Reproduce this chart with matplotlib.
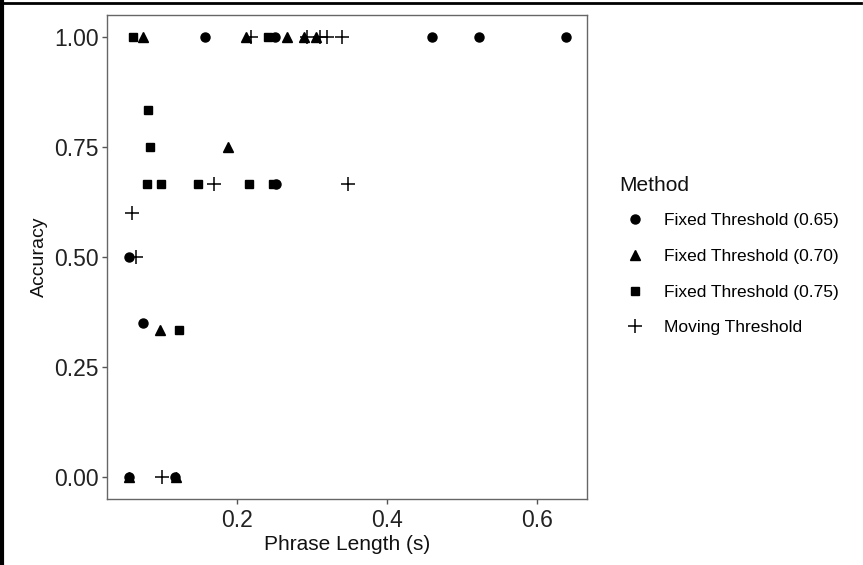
import matplotlib
matplotlib.use("Agg")
import matplotlib.pyplot as plt
from matplotlib.lines import Line2D

plt.rcParams['font.family'] = ['Liberation Sans', 'DejaVu Sans']

# phrase length (s) and accuracy per method
fixed_065_x = [0.158, 0.251, 0.460, 0.523, 0.639, 0.253, 0.057, 0.075, 0.056, 0.118]
fixed_065_y = [1.0, 1.0, 1.0, 1.0, 1.0, 0.667, 0.5, 0.35, 0.0, 0.0]

fixed_070_x = [0.075, 0.213, 0.267, 0.290, 0.306, 0.188, 0.098, 0.057, 0.119]
fixed_070_y = [1.0, 1.0, 1.0, 1.0, 1.0, 0.75, 0.333, 0.0, 0.0]

fixed_075_x = [0.062, 0.242, 0.082, 0.085, 0.080, 0.099, 0.148, 0.216, 0.249, 0.123]
fixed_075_y = [1.0, 1.0, 0.833, 0.75, 0.667, 0.667, 0.667, 0.667, 0.667, 0.333]

moving_x = [0.219, 0.294, 0.311, 0.321, 0.341, 0.170, 0.348, 0.060, 0.066, 0.100]
moving_y = [1.0, 1.0, 1.0, 1.0, 1.0, 0.667, 0.667, 0.6, 0.5, 0.0]

methods = ['Fixed Threshold (0.65)', 'Fixed Threshold (0.70)',
           'Fixed Threshold (0.75)', 'Moving Threshold']

fig = plt.figure(figsize=(8.63, 5.65), dpi=100)
ax = fig.add_axes([0.1236, 0.1168, 0.5562, 0.8567])

ax.plot(fixed_065_x, fixed_065_y, 'o', color='black', ms=6.5, ls='none', label=methods[0])
ax.plot(fixed_070_x, fixed_070_y, '^', color='black', ms=7.5, ls='none', label=methods[1])
ax.plot(fixed_075_x, fixed_075_y, 's', color='black', ms=6.2, ls='none', label=methods[2])
ax.plot(moving_x, moving_y, '+', color='black', ms=9.5, mew=1.1, ls='none', label=methods[3])

ax.set_xlim(0.0267, 0.6667)
ax.set_ylim(-0.05, 1.05)
ax.set_xticks([0.2, 0.4, 0.6])
ax.set_xticklabels(['0.2', '0.4', '0.6'])
ax.set_yticks([0, 0.25, 0.5, 0.75, 1.0])
ax.set_yticklabels(['0.00', '0.25', '0.50', '0.75', '1.00'])
ax.tick_params(length=3.5, width=1, color='#555555', labelsize=16.5,
               labelcolor='#222222')
ax.tick_params(axis='x', pad=3.5)
ax.tick_params(axis='y', pad=2)
for s in ax.spines.values():
    s.set_color('#666666')
    s.set_linewidth(1.0)

ax.set_xlabel('Phrase Length (s)', fontsize=15, labelpad=2.5, color='#111111')
ax.set_ylabel('Accuracy', fontsize=14, labelpad=5, color='#111111')

# legend (title drawn separately so the gap below it can be set)
fig.text(619 / 863, 1 - 185 / 565, 'Method', fontsize=15, va='center', ha='left',
         color='#111111')
leg = fig.legend(loc='upper left', bbox_to_anchor=(0.7055, 0.639), frameon=False,
                 fontsize=12.5, labelspacing=1.195, handletextpad=0.6,
                 handlelength=2.07, borderpad=0)

# black border left and top of the picture
fig.add_artist(Line2D([0.002, 0.002], [0, 1], color='black', lw=3, transform=fig.transFigure))
fig.add_artist(Line2D([0, 0.998], [0.995, 0.995], color='black', lw=2, transform=fig.transFigure))

plt.savefig('out.png', dpi=100)
